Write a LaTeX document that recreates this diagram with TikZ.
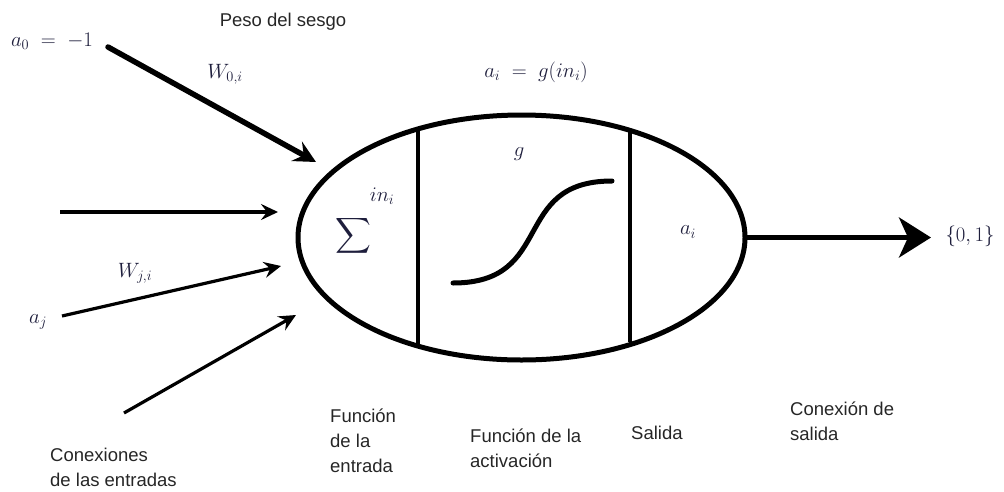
\documentclass[tikz,border=0pt]{standalone}
\usepackage{fontspec}
\setmainfont{Liberation Sans}
\usepackage{amsmath}
\usetikzlibrary{arrows.meta,calc}
\begin{document}
\begin{tikzpicture}[x=1pt,y=-1pt,
  lbl/.style={font=\fontsize{18.5}{25}\selectfont, text=black!85, align=left, inner sep=0pt},
  mth/.style={font=\fontsize{22}{24}\selectfont, text={rgb,255:red,30;green,30;blue,60}, inner sep=0pt},
  inarrow/.style={line width=3.2pt, -{Stealth[length=17pt,width=16pt,inset=6pt]}},
  biasarrow/.style={line width=5.5pt, line cap=round, -{Stealth[length=22pt,width=22pt,inset=8pt]}},
  outarrow/.style={line width=5pt, -{Stealth[length=32pt,width=40pt,inset=9pt]}},
  divider/.style={line width=4pt},
  body/.style={line width=5pt}
]
\useasboundingbox (0,0) rectangle (1004,491);
% neuron body
\coordinate (c) at (521.5,237.5);
\draw[body] (c) ellipse [x radius=223.5, y radius=122.5];
\coordinate (e) at (745,237.5);
% dividers
\coordinate (d1t) at (418,128);
\coordinate (d1b) at (418,346);
\coordinate (d2t) at (630,131);
\coordinate (d2b) at (630,342);
\draw[divider] (d1t) -- (d1b);
\draw[divider] (d2t) -- (d2b);
% sigmoid
\coordinate (s0) at (453,283);
\coordinate (s1) at (612,181);
\draw[line width=5pt, line cap=round] (s0) .. controls (556,283) and (510,181) .. (s1);
% inner labels
\node[mth, font=\fontsize{29}{30}\selectfont] (sum) at (353,236) {$\displaystyle\sum$};
\node[mth] (in) at (382,196) {$in_i$};
\node[mth] (g) at (519,154) {$g$};
\node[mth] (ai) at (688,232) {$a_i$};
\node[mth] (ag) at (536,72) {$a_i \;=\; g(in_i)$};
% output
\node[mth] (out) at (970,236) {$\{0,1\}$};
\coordinate (oend) at (931,237.5);
\draw[outarrow] (e) -- (oend);
% inputs
\node[mth] (a0) at (52,41) {$a_0 \;=\; -1$};
\node[mth] (w0) at (225,74) {$W_{0,i}$};
\node[lbl] (peso) at (283,22) {Peso del sesgo};
\coordinate (b0) at (108,47);
\coordinate (b1) at (316,162);
\draw[biasarrow] (b0) -- (b1);
\coordinate (i1s) at (60,212);
\coordinate (i1e) at (278,212);
\draw[inarrow] (i1s) -- (i1e);
\coordinate (i2s) at (62,316);
\coordinate (i2e) at (281,266);
\draw[inarrow] (i2s) -- (i2e);
\coordinate (i3s) at (124,413);
\coordinate (i3e) at (296,315);
\draw[inarrow] (i3s) -- (i3e);
\node[mth] (wj) at (135,273) {$W_{j,i}$};
\node[mth] (aj) at (38,322) {$a_j$};
% bottom labels
\node[lbl, anchor=north west] (conex) at (50,448) {Conexiones\\de las entradas};
\node[lbl, anchor=north west] (fent) at (330,409) {Función\\de la\\entrada};
\node[lbl, anchor=north west] (fact) at (470,429) {Función de la\\activación};
\node[lbl, anchor=north west] (sal) at (631,426) {Salida};
\node[lbl, anchor=north west] (csal) at (790,402) {Conexión de\\salida};
\end{tikzpicture}
\end{document}
